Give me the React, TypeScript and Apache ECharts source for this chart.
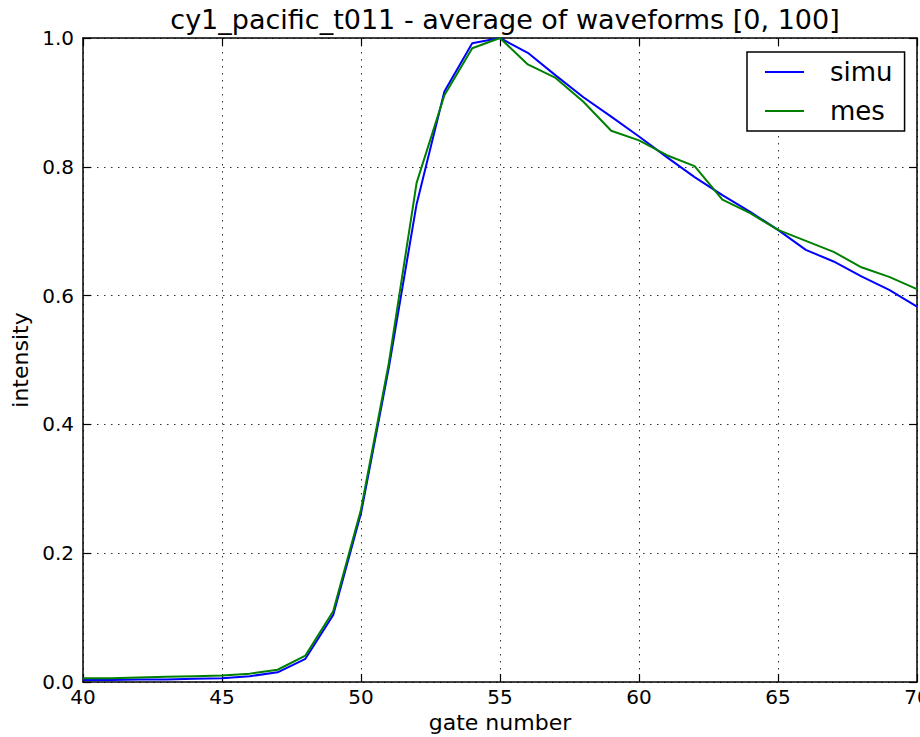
import React, { useEffect, useRef } from "react";
import * as echarts from "echarts";

const gates = [40, 41, 42, 43, 44, 45, 46, 47, 48, 49, 50, 51, 52, 53, 54, 55, 56, 57, 58, 59, 60, 61, 62, 63, 64, 65, 66, 67, 68, 69, 70];
const simu = [0.003, 0.003, 0.004, 0.004, 0.005, 0.006, 0.009, 0.015, 0.036, 0.104, 0.262, 0.488, 0.742, 0.917, 0.992, 1.0, 0.977, 0.942, 0.908, 0.878, 0.847, 0.815, 0.784, 0.756, 0.73, 0.702, 0.671, 0.653, 0.63, 0.609, 0.583];
const mes = [0.006, 0.006, 0.007, 0.008, 0.009, 0.01, 0.013, 0.019, 0.041, 0.11, 0.268, 0.495, 0.775, 0.911, 0.984, 1.0, 0.959, 0.938, 0.901, 0.856, 0.841, 0.818, 0.801, 0.749, 0.728, 0.702, 0.685, 0.668, 0.644, 0.629, 0.61];
const seriesNames = ["simu", "mes"];
const titleText = "cy1_pacific_t011 - average of waveforms [0, 100]";
const xLabel = "gate number";
const yLabel = "intensity";

const FONT = "DejaVu Sans";

export default function App() {
  const ref = useRef<HTMLDivElement>(null);
  useEffect(() => {
    document.body.style.margin = "0";
    if (!ref.current) return;
    const chart = echarts.init(ref.current, null, { renderer: "svg" });
    const gridLine = { show: true, lineStyle: { color: "#333", width: 1, type: [1.5, 5.5] as any } };
    const axisLine = { show: true, onZero: false, lineStyle: { color: "#000", width: 1.5 } };
    const tick = { show: true, inside: true, length: 8, lineStyle: { color: "#000", width: 1.2 } };
    chart.setOption({
      animation: false,
      backgroundColor: "#fff",
      textStyle: { fontFamily: FONT },
      title: {
        text: titleText,
        left: 500,
        textAlign: "center",
        top: 1,
        textStyle: { fontFamily: FONT, fontSize: 27, fontWeight: "normal", color: "#000" },
      },
      grid: { left: 83, right: 3, top: 38, bottom: 55, show: false, outerBoundsMode: "none", containLabel: false },
      legend: {
        data: seriesNames,
        orient: "vertical",
        left: 747,
        top: 52,
        padding: [7, 12, 7, 18],
        itemGap: 13,
        itemWidth: 39,
        itemHeight: 2,
        icon: "rect",
        backgroundColor: "#fff",
        borderColor: "#000",
        borderWidth: 1.5,
        borderRadius: 0,
        textStyle: { fontFamily: FONT, fontSize: 26, color: "#000", lineHeight: 26, padding: [0, 0, 0, 21] },
      },
      xAxis: [
        {
          type: "value",
          min: 40,
          max: 70,
          interval: 5,
          position: "bottom",
          name: xLabel,
          nameLocation: "middle",
          nameGap: 28,
          nameTextStyle: { fontFamily: FONT, fontSize: 22, color: "#000" },
          axisLine,
          axisTick: tick,
          axisLabel: { fontFamily: FONT, fontSize: 20, color: "#000", margin: 5 },
          splitLine: gridLine,
        },
        {
          type: "value",
          min: 40,
          max: 70,
          interval: 5,
          position: "top",
          axisLine,
          axisTick: tick,
          axisLabel: { show: false },
          splitLine: { show: false },
        },
      ],
      yAxis: [
        {
          type: "value",
          min: 0,
          max: 1,
          interval: 0.2,
          position: "left",
          name: yLabel,
          nameLocation: "middle",
          nameGap: 50,
          nameRotate: 90,
          nameTextStyle: { fontFamily: FONT, fontSize: 22, color: "#000" },
          axisLine,
          axisTick: tick,
          axisLabel: { fontFamily: FONT, fontSize: 20, color: "#000", margin: 9, formatter: (v: number) => v.toFixed(1) },
          splitLine: gridLine,
        },
        {
          type: "value",
          min: 0,
          max: 1,
          interval: 0.2,
          position: "right",
          axisLine,
          axisTick: tick,
          axisLabel: { show: false },
          splitLine: { show: false },
        },
      ],
      series: [
        {
          name: seriesNames[0],
          type: "line",
          data: gates.map((g, i) => [g, simu[i]]),
          showSymbol: false,
          symbol: "none",
          lineStyle: { color: "#0000ff", width: 2 },
          itemStyle: { color: "#0000ff" },
          z: 3,
        },
        {
          name: seriesNames[1],
          type: "line",
          data: gates.map((g, i) => [g, mes[i]]),
          showSymbol: false,
          symbol: "none",
          lineStyle: { color: "#008000", width: 2 },
          itemStyle: { color: "#008000" },
          z: 4,
        },
      ],
    });
    return () => chart.dispose();
  }, []);
  return <div ref={ref} style={{ width: 920, height: 737 }} />;
}
